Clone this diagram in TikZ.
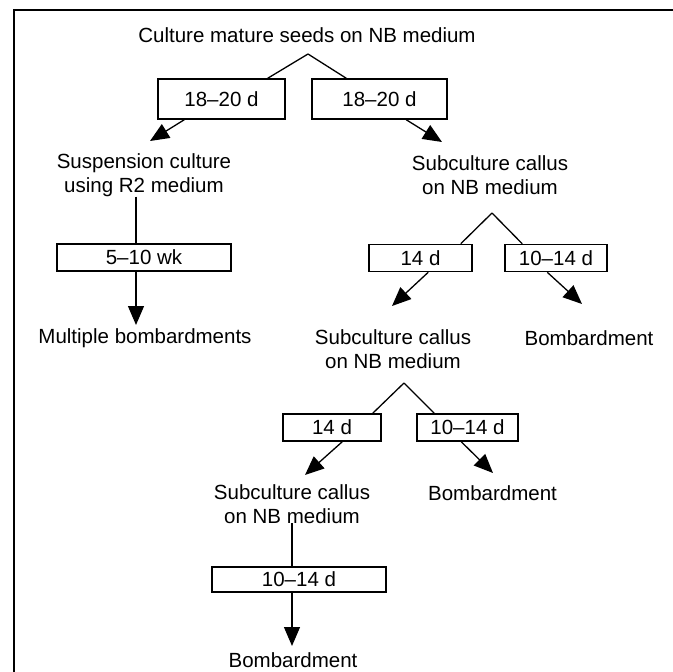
\documentclass[tikz,border=0pt]{standalone}
\usepackage{fontspec}
\setmainfont{Liberation Sans}
\usepackage{tikz}
\usetikzlibrary{arrows.meta}

\begin{document}
\begin{tikzpicture}[x=1pt, y=-1pt,
    txt/.style={font=\fontsize{20.5}{23.5}\selectfont, align=center, inner sep=0pt},
    dbox/.style={draw, line width=1.5pt, inner sep=0pt, minimum height=27pt, font=\fontsize{20.5}{23.5}\selectfont},
    link/.style={line width=1.3pt},
    go/.style={link, -{Triangle[length=19pt, width=16pt]}}]
    \useasboundingbox (0, 0) rectangle (673, 672);
    \draw[line width=2pt] (14, 672) -- (14, 10) -- (673, 10);

    \node[txt] (seeds) at (307, 35) {Culture mature seeds on NB medium};
    \coordinate (split1) at (308, 54);
    \node[dbox, minimum width=127pt, minimum height=40pt] (d1) at (221.5, 99) {18–20 d};
    \node[dbox, minimum width=135pt, minimum height=40pt] (d2) at (379.5, 99) {18–20 d};
    \draw[link] (split1) -- ([xshift=-18pt]d1.north east);
    \draw[link] (split1) -- ([xshift=35pt]d2.north west);
    \coordinate (tip1) at (150, 141);
    \coordinate (tip2) at (442, 142);
    \draw[go] ([xshift=27pt]d1.south west) -- (tip1);
    \draw[go] ([xshift=95pt]d2.south west) -- (tip2);
    \node[txt] (susp) at (144, 175) {Suspension culture\\using R2 medium};
    \node[txt] (callus1) at (490, 175) {Subculture callus\\on NB medium};

    \node[dbox, minimum width=174pt] (wk) at (144, 257.5) {5–10 wk};
    \draw[link] ([xshift=-8pt]susp.south) -- ([xshift=-8pt]wk.north);
    \coordinate (tip3) at (136, 325);
    \draw[go] ([xshift=-8pt]wk.south) -- (tip3);
    \node[txt] (multi) at (145, 338) {Multiple bombardments};

    \coordinate (split2) at (492, 213);
    \node[dbox, minimum width=103pt] (d3) at (420.5, 258) {14 d};
    \node[dbox, minimum width=102pt] (d4) at (556, 258) {10–14 d};
    \draw[link] (split2) -- ([xshift=-12pt]d3.north east);
    \draw[link] (split2) -- ([xshift=18pt]d4.north west);
    \coordinate (tip4) at (392, 306);
    \coordinate (tip5) at (582, 304);
    \draw[go] ([xshift=60pt]d3.south west) -- (tip4);
    \draw[go] ([xshift=43pt]d4.south west) -- (tip5);
    \node[txt] (callus2) at (393, 349) {Subculture callus\\on NB medium};
    \node[txt] (bomb1) at (589, 338) {Bombardment};

    \coordinate (split3) at (404, 383);
    \node[dbox, minimum width=98pt] (d5) at (332, 427.5) {14 d};
    \node[dbox, minimum width=101pt] (d6) at (467.5, 427.5) {10–14 d};
    \draw[link] (split3) -- ([xshift=-9pt]d5.north east);
    \draw[link] (split3) -- ([xshift=18pt]d6.north west);
    \coordinate (tip6) at (305, 475);
    \coordinate (tip7) at (493, 473);
    \draw[go] ([xshift=60pt]d5.south west) -- (tip6);
    \draw[go] ([xshift=45pt]d6.south west) -- (tip7);
    \node[txt] (callus3) at (292, 504) {Subculture callus\\on NB medium};
    \node[txt] (bomb2) at (492.5, 493) {Bombardment};

    \node[dbox, minimum width=174pt, minimum height=25pt] (d7) at (299, 579.5) {10–14 d};
    \draw[link] (callus3.south) -- ([xshift=-7pt]d7.north);
    \coordinate (tip8) at (292, 646);
    \draw[go] ([xshift=-7pt]d7.south) -- (tip8);
    \node[txt] (bomb3) at (293, 660) {Bombardment};
\end{tikzpicture}
\end{document}
